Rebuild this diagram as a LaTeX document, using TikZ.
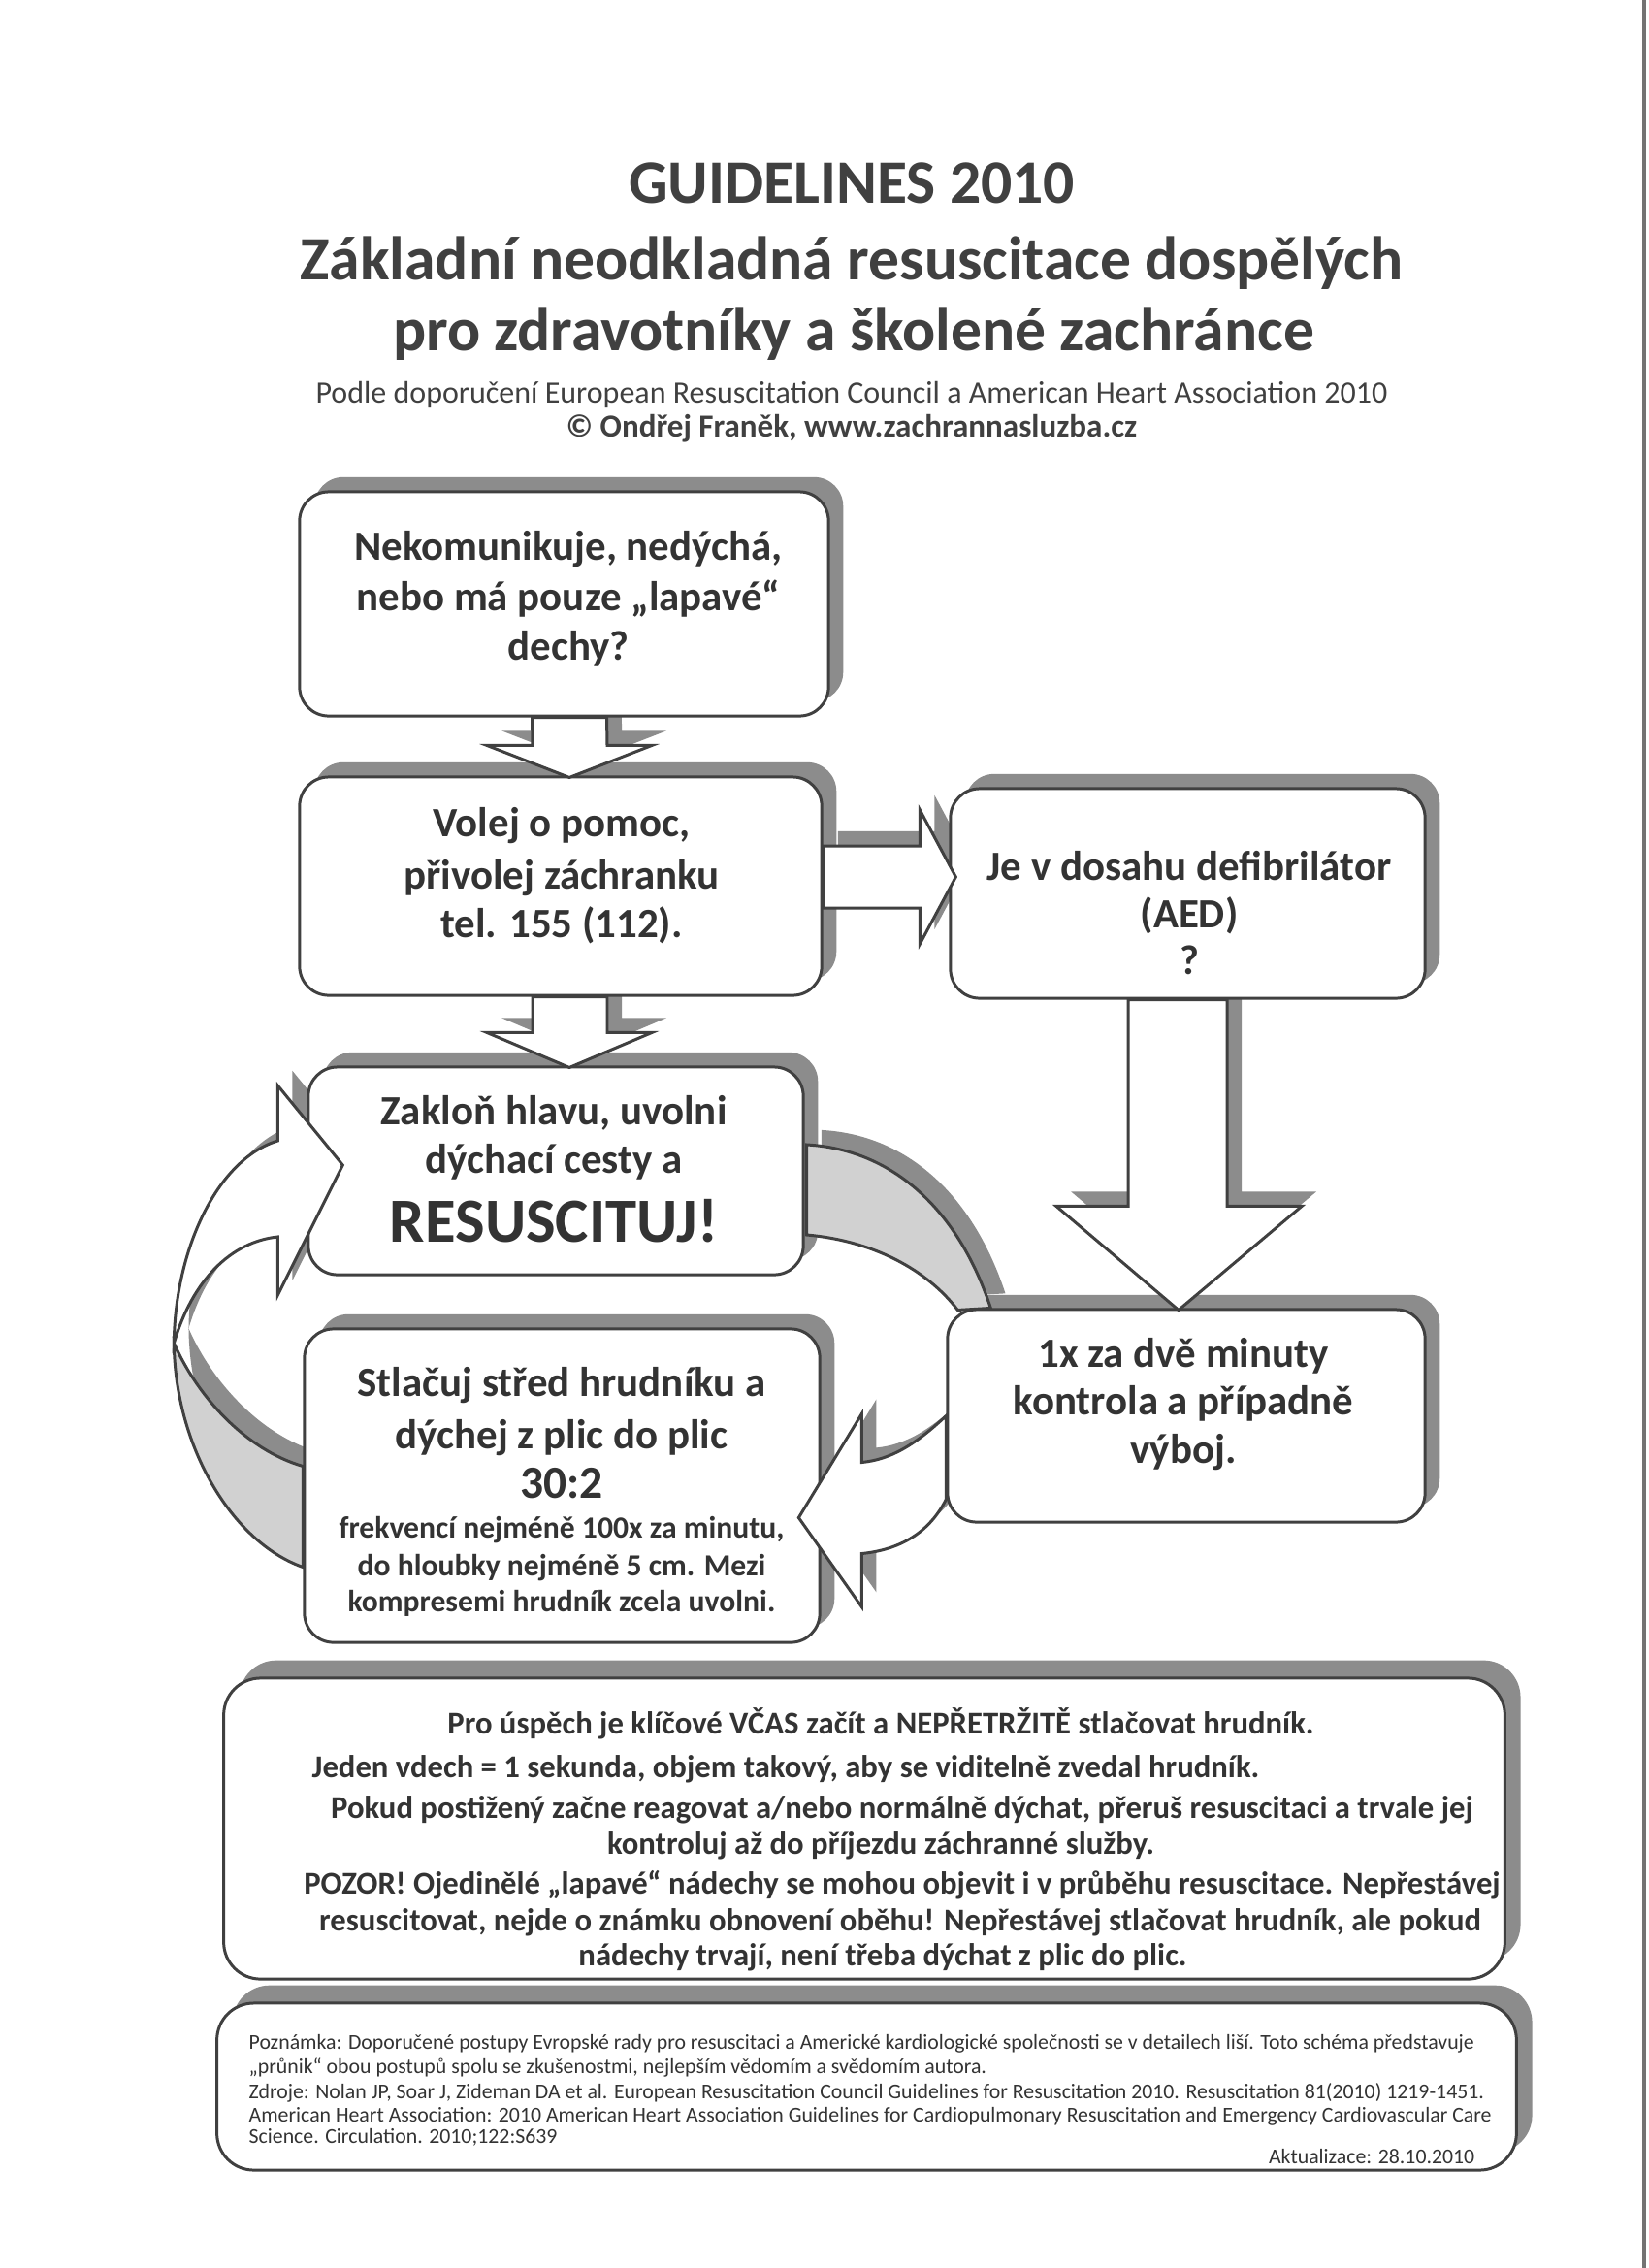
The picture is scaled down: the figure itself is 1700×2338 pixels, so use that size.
\documentclass[tikz,border=0pt]{standalone}
\usepackage{fontspec}
\setmainfont{Carlito}
\usetikzlibrary{calc,shadows}
\pgfdeclarelayer{bg}
\pgfdeclarelayer{fg}
\pgfsetlayers{bg,main,fg}
\tikzset{
  box/.style={draw=black!75, line width=0.85pt, fill=white, rounded corners=0.3cm, inner sep=0pt,
    general shadow={fill=black!45, shadow xshift=4.3pt, shadow yshift=4.3pt}},
  bigbox/.style={draw=black!75, line width=0.85pt, fill=white, rounded corners=0.38cm, inner sep=0pt,
    general shadow={fill=black!45, shadow xshift=4.6pt, shadow yshift=5.2pt}},
  arrbody/.style={draw=black!75, line width=0.85pt, fill=white, line join=miter},
  arrgray/.style={arrbody, fill=black!18},
  arrshadow/.style={fill=black!45, transform canvas={shift={(4.3pt,4.3pt)}}},
  tx/.style={anchor=base, inner sep=0pt, text=black!80, font=\bfseries\fontsize{12.2}{14}\selectfont},
  txbig/.style={tx, font=\bfseries\fontsize{18.4}{22}\selectfont},
  txmid/.style={tx, font=\bfseries\fontsize{13.5}{16}\selectfont},
  txsm/.style={tx, font=\bfseries\fontsize{9}{11}\selectfont},
  txnote/.style={tx, font=\bfseries\fontsize{9.3}{11}\selectfont},
  txfoot/.style={anchor=base west, inner sep=0pt, text=black!80, font=\fontsize{6.2}{7.4}\selectfont},
  ttl/.style={tx, text=black!75, font=\bfseries\fontsize{18.1}{22}\selectfont},
  subt/.style={tx, text=black!75, font=\fontsize{9.1}{11}\selectfont},
  subb/.style={tx, text=black!75, font=\bfseries\fontsize{9.4}{11}\selectfont},
}
\begin{document}
\begin{tikzpicture}[x=0.01cm,y=-0.01cm]
\useasboundingbox (0,0) rectangle (1700,2338);

% title
\node[ttl] (h1) at (878,209) {GUIDELINES 2010};
\node[ttl] (h2) at (878,288) {Základní neodkladná resuscitace dospělých};
\node[ttl] (h3) at (880,361) {pro zdravotníky a školené zachránce};
\node[subt] (h4) at (878,415) {Podle doporučení European Resuscitation Council a American Heart Association 2010};
\node[subb] (h5) at (878,450) {© Ondřej Franěk, www.zachrannasluzba.cz};

% boxes
\node[box, minimum width=5.45cm, minimum height=2.31cm] (b1) at (581.5,622.5) {};
\node[box, minimum width=5.38cm, minimum height=2.25cm] (b2) at (578,913.5) {};
\node[box, minimum width=4.89cm, minimum height=2.16cm] (b3) at (1224.5,921) {};
\node[box, minimum width=5.10cm, minimum height=2.14cm] (b4) at (573,1207) {};
\node[box, minimum width=4.92cm, minimum height=2.19cm] (b5) at (1223,1459.5) {};
\node[box, minimum width=5.31cm, minimum height=3.23cm] (b6) at (579.5,1531.5) {};
\node[bigbox, minimum width=13.20cm, minimum height=3.10cm] (b7) at (891,1885) {};
\node[bigbox, minimum width=13.39cm, minimum height=1.72cm] (b8) at (893.5,2151) {};

% box texts
\node[tx] (t1a) at (586,577) {Nekomunikuje, nedýchá,};
\node[tx] (t1b) at (586,629) {nebo má pouze „lapavé“};
\node[tx] (t1c) at (586,680) {dechy?};

\node[tx] (t2a) at (579,862) {Volej o pomoc,};
\node[tx] (t2b) at (579,916) {přivolej záchranku};
\node[tx] (t2c) at (579,966) {tel. 155 (112).};

\node[tx] (t3a) at (1226,907) {Je v dosahu defibrilátor};
\node[tx] (t3b) at (1226,956) {(AED)};
\node[tx] (t3c) at (1226,1004) {?};

\node[tx] (t4a) at (571,1159) {Zakloň hlavu, uvolni};
\node[tx] (t4b) at (571,1209) {dýchací cesty a};
\node[txbig] (t4c) at (571,1280) {RESUSCITUJ!};

\node[tx] (t5a) at (1220,1409) {1x za dvě minuty};
\node[tx] (t5b) at (1220,1458) {kontrola a případně};
\node[tx] (t5c) at (1220,1508) {výboj.};

\node[tx] (t6a) at (579,1439) {Stlačuj střed hrudníku a};
\node[tx] (t6b) at (579,1493) {dýchej z plic do plic};
\node[txmid] (t6c) at (579,1544) {30:2};
\node[txsm] (t6d) at (579,1585) {frekvencí nejméně 100x za minutu,};
\node[txsm] (t6e) at (579,1624) {do hloubky nejméně 5 cm. Mezi};
\node[txsm] (t6f) at (579,1661) {kompresemi hrudník zcela uvolni.};

\node[txnote] (t7a) at (908,1787) {Pro úspěch je klíčové VČAS začít a NEPŘETRŽITĚ stlačovat hrudník.};
\node[txnote, anchor=base west] (t7b) at (321,1832) {Jeden vdech = 1 sekunda, objem takový, aby se viditelně zvedal hrudník.};
\node[txnote] (t7c) at (930,1874) {Pokud postižený začne reagovat a/nebo normálně dýchat, přeruš resuscitaci a trvale jej};
\node[txnote] (t7d) at (908,1911) {kontroluj až do příjezdu záchranné služby.};
\node[txnote] (t7e) at (930,1952) {POZOR! Ojedinělé „lapavé“ nádechy se mohou objevit i v průběhu resuscitace. Nepřestávej};
\node[txnote] (t7f) at (928,1990) {resuscitovat, nejde o známku obnovení oběhu! Nepřestávej stlačovat hrudník, ale pokud};
\node[txnote] (t7g) at (910,2026) {nádechy trvají, není třeba dýchat z plic do plic.};

\node[txfoot] (t8a) at (256,2112) {Poznámka: Doporučené postupy Evropské rady pro resuscitaci a Americké kardiologické společnosti se v detailech liší. Toto schéma představuje};
\node[txfoot] (t8b) at (256,2137) {„průnik“ obou postupů spolu se zkušenostmi, nejlepším vědomím a svědomím autora.};
\node[txfoot] (t8c) at (256,2163) {Zdroje: Nolan JP, Soar J, Zideman DA et al. European Resuscitation Council Guidelines for Resuscitation 2010. Resuscitation 81(2010) 1219-1451.};
\node[txfoot] (t8d) at (256,2187) {American Heart Association: 2010 American Heart Association Guidelines for Cardiopulmonary Resuscitation and Emergency Cardiovascular Care};
\node[txfoot] (t8e) at (256,2209) {Science. Circulation. 2010;122:S639};
\node[txfoot, anchor=base east] (t8f) at (1521,2230) {Aktualizace: 28.10.2010};

% arrow outlines
\def\arrA{($(b1.south)+(-33,0)$) -- ($(b1.south)+(44,0)$) -- ($(b2.north)+(48,-31)$) -- ($(b2.north)+(94,-31)$) -- ($(b2.north)+(9,2)$) -- ($(b2.north)+(-76,-31)$) -- ($(b2.north)+(-29,-31)$) -- cycle}
\def\arrB{($(b2.south)+(-29,0)$) -- ($(b2.south)+(48,0)$) -- ($(b4.north)+(53,-34)$) -- ($(b4.north)+(99,-34)$) -- ($(b4.north)+(14,2)$) -- ($(b4.north)+(-71,-34)$) -- ($(b4.north)+(-24,-34)$) -- cycle}
\def\arrC{($(b2.east)+(0,-41.5)$) -- ($(b3.west)+(-30,-49)$) -- ($(b3.west)+(-30,-86)$) -- ($(b3.west)+(7,-17)$) -- ($(b3.west)+(-30,52)$) -- ($(b3.west)+(-30,15)$) -- ($(b2.east)+(0,22.5)$) -- cycle}
\def\arrD{($(b3.south)+(-61.5,0)$) -- ($(b3.south)+(40.5,0)$) -- ($(b5.north)+(42,-105)$) -- ($(b5.north)+(119,-105)$) -- ($(b5.north)+(-8,2)$) -- ($(b5.north)+(-134,-105)$) -- ($(b5.north)+(-60,-105)$) -- cycle}
\def\arrBand{($(b4.east)+(2,-27)$) .. controls ($(b4.east)+(92,-22)$) and ($(b5.north west)+(13,-100)$) .. ($(b5.north west)+(46,0)$) -- ($(b5.north west)+(12,2)$) .. controls ($(b5.north west)+(-20,-40)$) and ($(b4.east)+(70,72)$) .. ($(b4.east)+(2,66)$) -- cycle}
\def\arrE{($(b5.west)+(0,0)$) .. controls ($(b5.west)+(-32,30)$) and ($(b5.west)+(-57,45)$) .. ($(b5.west)+(-87,48)$) -- ($(b5.west)+(-87,-2)$) -- ($(b5.west)+(-152,105)$) -- ($(b5.west)+(-87,197)$) -- ($(b5.west)+(-87,142)$) .. controls ($(b5.west)+(-47,138)$) and ($(b5.west)+(-17,120)$) .. ($(b5.west)+(0,86)$) -- cycle}
\def\arrFup{($(b4.west)+(-30,-31)$) .. controls ($(b4.west)+(-93,-12)$) and ($(b6.west)+(-132,-242)$) .. ($(b6.west)+(-133,-147)$) .. controls ($(b6.west)+(-114,-212)$) and ($(b4.west)+(-78,73)$) .. ($(b4.west)+(-30,68)$) -- ($(b4.west)+(-30,128)$) -- ($(b4.west)+(37,-6)$) -- ($(b4.west)+(-30,-88)$) -- cycle}
\def\arrFlow{($(b6.west)+(-133,-147)$) .. controls ($(b6.west)+(-132,-42)$) and ($(b6.west)+(-74,58)$) .. ($(b6.west)+(0,84)$) -- ($(b6.west)+(0,-20)$) .. controls ($(b6.west)+(-59,-37)$) and ($(b6.west)+(-109,-92)$) .. ($(b6.west)+(-133,-147)$) -- cycle}

\begin{pgfonlayer}{bg}
  \fill[white] (0,0) rectangle (1700,2338);
  \fill[black!55] (1693,0) rectangle (1697,2338);
  \path[arrshadow] \arrA;
  \path[arrshadow] \arrB;
  \path[arrshadow] \arrC;
  \path[arrshadow] \arrD;
  \path[arrshadow] \arrBand;
  \path[arrshadow] \arrE;
  \path[arrshadow] \arrFup;
  \path[arrshadow] \arrFlow;
\end{pgfonlayer}

\begin{pgfonlayer}{fg}
  \path[arrbody] \arrA;
  \path[arrbody] \arrB;
  \path[arrbody] \arrC;
  \path[arrbody] \arrD;
  \path[arrgray] \arrBand;
  \path[arrbody] \arrE;
  \path[arrgray] \arrFlow;
  \path[arrbody] \arrFup;
\end{pgfonlayer}
\end{tikzpicture}
\end{document}
